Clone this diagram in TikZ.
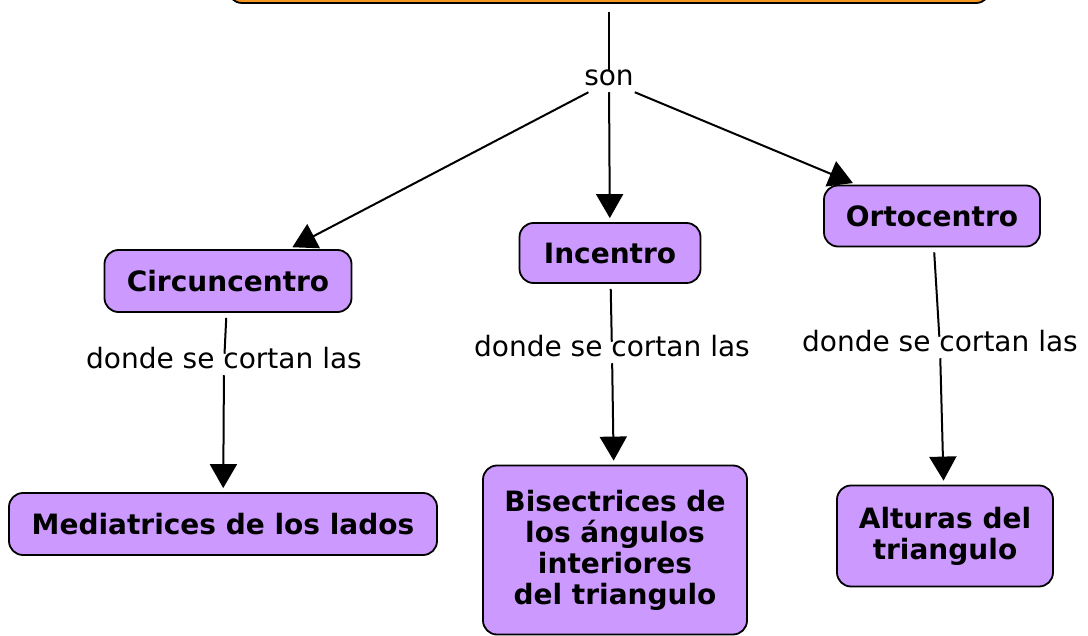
\documentclass[tikz,border=0pt]{standalone}
\usepackage{fontspec}
\setmainfont{DejaVu Sans}
\usetikzlibrary{arrows.meta}
\definecolor{lila}{RGB}{204,153,255}
\definecolor{naranja}{RGB}{243,152,29}

\begin{document}
\begin{tikzpicture}[x=1pt, y=-1pt, >={Triangle[width=27pt,length=24pt]}, line width=2pt,
    concepto/.style={draw=black, line width=1.8pt, fill=lila, rounded corners=14pt,
        font=\fontsize{28}{31}\selectfont\bfseries, align=center, inner xsep=16pt, inner ysep=0pt},
    enlace/.style={font=\fontsize{28}{31}\selectfont, text height=0.75em, text depth=0pt,
        inner xsep=8pt, inner ysep=6pt}]
    % 画面范围
    \useasboundingbox (0,0) rectangle (1088,636);

    % 顶部概念 (被截掉)
    \node[concepto, fill=naranja, minimum width=762pt, minimum height=58pt] (tema) at (609,-26) {};
    \node[enlace] (son) at (609,81.5) {son};

    % 三个中心
    \node[concepto, minimum width=247pt, minimum height=62pt] (circ) at (228,281) {Circuncentro};
    \node[concepto, minimum width=181pt, minimum height=60pt] (inc) at (610,253) {Incentro};
    \node[concepto, minimum width=216pt, minimum height=61pt] (orto) at (932,216) {Ortocentro};

    % 连接词
    \node[enlace] (d1) at (224,364.5) {donde se cortan las};
    \node[enlace] (d2) at (612,352.5) {donde se cortan las};
    \node[enlace] (d3) at (940,347.5) {donde se cortan las};

    % 底部概念
    \node[concepto, minimum width=428pt, minimum height=62pt] (medi) at (223,524) {Mediatrices de los lados};
    \node[concepto, minimum width=264pt, minimum height=169pt] (bise) at (615,550)
        {Bisectrices de\\los ángulos\\interiores\\del triangulo};
    \node[concepto, minimum width=216pt, minimum height=101pt] (alt) at (945,536) {Alturas del\\triangulo};

    % 连线
    \draw[shorten <=8pt] (tema) -- (son);
    \draw[->, shorten >=4pt] (son) -- (circ);
    \draw[->, shorten >=4pt] (son) -- (inc);
    \draw[->, shorten >=4pt] (son) -- (orto);
    \draw[shorten <=5pt] (circ) -- (d1);
    \draw[shorten <=5pt] (inc) -- (d2);
    \draw[shorten <=5pt] (orto) -- (d3);
    \draw[->, shorten >=4pt] (d1) -- (medi);
    \draw[->, shorten >=4pt] (d2) -- (bise);
    \draw[->, shorten >=4pt] (d3) -- (alt);
\end{tikzpicture}
\end{document}
